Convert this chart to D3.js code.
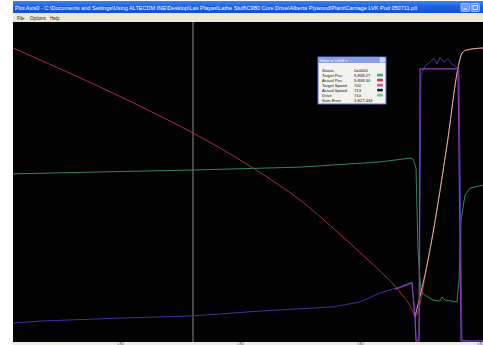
<!DOCTYPE html>
<html>
<head>
<meta charset="utf-8">
<script src="https://cdn.jsdelivr.net/npm/d3@7"></script>
<style>
  html, body { margin: 0; padding: 0; background: #ffffff; }
  svg { display: block; font-family: "Liberation Sans", "DejaVu Sans", sans-serif; }
</style>
</head>
<body>
<svg id="plot" width="483" height="345"></svg>
<script>
// Trace samples: time in seconds, values in % of full scale
const posTime     = [0.108, 0.333, 0.833, 1.25, 1.608, 1.975, 2.25, 2.5, 2.792, 3.058, 3.167, 3.333, 3.442, 3.458, 3.567, 3.725, 3.817, 3.85, 3.892, 4.025];
const actualPos   = [91.0, 87.3, 78.9, 71.4, 64.6, 56.8, 50.3, 43.8, 34.5, 25.5, 21.7, 15.2, 9.0, 7.5, 25.2, 60.9, 84.8, 89.4, 90.4, 91.0];

const targetTime  = [3.458, 3.567, 3.725, 3.817, 3.85, 3.892, 4.025];
const targetPos   = [7.5, 25.2, 60.9, 84.8, 89.4, 90.4, 91.0];

const driveTime   = [0.108, 0.833, 1.608, 2.5, 3.167, 3.417, 3.442, 3.467, 3.483, 3.508, 3.55, 3.608, 3.667, 3.683, 3.708, 3.808, 3.825, 3.842, 3.875, 3.917, 4.025];
const drive       = [51.9, 52.5, 53.1, 54.0, 55.6, 56.8, 56.5, 53.7, 28.3, 15.2, 14.0, 12.7, 12.4, 13.7, 12.7, 12.1, 18.9, 37.6, 45.3, 47.5, 48.4];

const speedTime   = [0.108, 0.333, 1.0, 1.608, 2.167, 2.775, 3.0, 3.167, 3.333, 3.433, 3.458, 3.467, 3.492, 3.508, 3.542, 3.583, 3.617, 3.642, 3.667, 3.7, 3.733, 3.767, 3.8, 3.825, 3.85, 3.917, 4.025];
const actualSpeed = [5.6, 6.2, 7.1, 7.8, 9.3, 10.6, 12.1, 14.9, 16.8, 18.3, 7.5, 0.3, 0.3, 82.6, 85.4, 86.6, 87.9, 86.0, 88.2, 86.6, 87.6, 86.0, 85.1, 84.2, 0.3, 0.0, 0.0];

const cmdTime     = [3.292, 3.433, 3.458, 3.467, 3.492, 3.5, 3.817, 3.842, 4.025];
const targetSpeed = [16.1, 18.0, 7.5, 0.0, 0.0, 84.5, 84.5, 0.0, 0.0];

const cursorTime  = 1.608;
const timeTicks   = [1, 2, 3, 4];
const tickLabels  = ["1.000", "2.000", "3.000", "4.000"];

const legendNames  = ["Status", "Target Pos", "Actual Pos", "Target Speed", "Actual Speed", "Drive", "Sum Error"];
const legendValues = ["0x0000", "5,838.27", "5,838.50", "700", "713", "710", "1,827,434"];
const legendColors = [null, "#3fae78", "#d23c3c", "#c45aa8", "#1c2a3a", "#62d28a", null];

const titleText = "Plot Axis0 - C:\\Documents and Settings\\Using ALTECDM.INE\\Desktop\\Las Playas\\Lathe Stuff\\C980 Core Drive\\Alberta Plywood\\Plant\\Carriage LVK Pod 050711.plt";
const menuItems = ["File", "Options", "Help"];

const svg = d3.select("#plot");
const W = 483, H = 345;
const plotL = 13, plotT = 22, plotB = 342;

const x = d3.scaleLinear().domain([0.108, 4.025]).range([13, 483]);
const y = d3.scaleLinear().domain([0, 100]).range([341, 19]);

// window chrome
svg.append("rect").attr("width", W).attr("height", H).attr("fill", "#ffffff");

const grad = svg.append("defs").append("linearGradient")
  .attr("id", "titleGrad").attr("x1", 0).attr("y1", 0).attr("x2", 0).attr("y2", 1);
grad.append("stop").attr("offset", 0).attr("stop-color", "#3d86f0");
grad.append("stop").attr("offset", 0.5).attr("stop-color", "#1c5fe0");
grad.append("stop").attr("offset", 1).attr("stop-color", "#1650cc");

svg.append("rect").attr("x", plotL).attr("y", 1).attr("width", W - plotL).attr("height", 12)
  .attr("fill", "url(#titleGrad)");
svg.append("text").attr("x", plotL + 2).attr("y", 9.5)
  .attr("fill", "#ffffff").attr("font-size", 5.6)
  .attr("textLength", 402).attr("lengthAdjust", "spacingAndGlyphs")
  .text(titleText);

// title bar buttons
[461, 471].forEach((bx, i) => {
  svg.append("rect").attr("x", bx).attr("y", 3.5).attr("width", 8.5).attr("height", 8)
    .attr("rx", 1).attr("fill", i ? "#5a8cf2" : "#6e9cf6").attr("stroke", "#dfe8ff").attr("stroke-width", 0.6);
});
svg.append("rect").attr("x", 463.5).attr("y", 8.5).attr("width", 3.5).attr("height", 1).attr("fill", "#ffffff");
svg.append("rect").attr("x", 473).attr("y", 5.5).attr("width", 4.5).attr("height", 4).attr("fill", "none")
  .attr("stroke", "#ffffff").attr("stroke-width", 0.8);

// menu bar
svg.append("rect").attr("x", plotL).attr("y", 13).attr("width", W - plotL).attr("height", plotT - 13)
  .attr("fill", "#ece9d8");
const menuX = [0, 13, 33];
menuItems.forEach((m, i) => {
  svg.append("text").attr("x", plotL + 4 + menuX[i]).attr("y", 19.5)
    .attr("font-size", 4.6).attr("fill", "#222").text(m);
});

// plot background
svg.append("rect").attr("x", plotL).attr("y", plotT).attr("width", W - plotL).attr("height", plotB - plotT)
  .attr("fill", "#020202");

// time axis strip
svg.append("rect").attr("x", plotL).attr("y", plotB).attr("width", W - plotL).attr("height", H - plotB)
  .attr("fill", "#ecebe4");
const axis = d3.axisBottom(x).tickValues(timeTicks).tickFormat((d, i) => tickLabels[i]).tickSize(1.2).tickSizeOuter(0);
const ax = svg.append("g").attr("transform", `translate(0,${plotB})`).call(axis);
ax.select(".domain").remove();
ax.selectAll("line").attr("stroke", "#666");
ax.selectAll("text").attr("font-size", 2.6).attr("fill", "#666").attr("dy", 0).attr("y", 2.7);

const g = svg.append("g");
g.append("clipPath").attr("id", "clip").append("rect")
  .attr("x", plotL).attr("y", plotT).attr("width", W - plotL).attr("height", plotB - plotT);
const plot = g.append("g").attr("clip-path", "url(#clip)");

// cursor
plot.append("line").attr("x1", x(cursorTime)).attr("x2", x(cursorTime))
  .attr("y1", plotT).attr("y2", plotB).attr("stroke", "#8a8a8a").attr("stroke-width", 1);

function trace(tArr, vArr, color, width, curve) {
  const pts = tArr.map((t, i) => [t, vArr[i]]);
  const line = d3.line().x(d => x(d[0])).y(d => y(d[1])).curve(curve || d3.curveLinear);
  plot.append("path").datum(pts).attr("d", line)
    .attr("fill", "none").attr("stroke", color).attr("stroke-width", width)
    .attr("stroke-linejoin", "round");
}

trace(driveTime, drive, "#2b8a5e", 1.0);
trace(posTime, actualPos, "#b02a3a", 1.0, d3.curveMonotoneX);
trace(targetTime, targetPos, "#d6b0a2", 1.0, d3.curveMonotoneX);
trace(speedTime, actualSpeed, "#3a34a0", 1.0);
trace(cmdTime, targetSpeed, "#9440bc", 1.1);

// value readout window
const lx = 318, ly = 57, lw = 68, lh = 47;
const lg = svg.append("g");
lg.append("rect").attr("x", lx).attr("y", ly).attr("width", lw).attr("height", lh)
  .attr("fill", "#f2f2ee").attr("stroke", "#5470d8").attr("stroke-width", 1);
lg.append("rect").attr("x", lx).attr("y", ly).attr("width", lw).attr("height", 6)
  .attr("fill", "#8a9ee6");
lg.append("text").attr("x", lx + 2).attr("y", ly + 4.6).attr("font-size", 3.8).attr("fill", "#ffffff")
  .text("Value at 1.608 s");
lg.append("rect").attr("x", lx + lw - 6).attr("y", ly + 1).attr("width", 4.5).attr("height", 4)
  .attr("fill", "#c8d2f4").attr("stroke", "#ffffff").attr("stroke-width", 0.4);

legendNames.forEach((name, i) => {
  const cy = 70 + i * 5;
  lg.append("text").attr("x", lx + 4).attr("y", cy + 1.5).attr("font-size", 4.2).attr("fill", "#111").text(name);
  lg.append("text").attr("x", lx + 36).attr("y", cy + 1.5).attr("font-size", 4.2).attr("fill", "#111").text(legendValues[i]);
  if (legendColors[i]) {
    lg.append("rect").attr("x", lx + 59).attr("y", cy - 1.2).attr("width", 6).attr("height", 2.6)
      .attr("rx", 1).attr("fill", legendColors[i]);
  }
});
</script>
</body>
</html>
